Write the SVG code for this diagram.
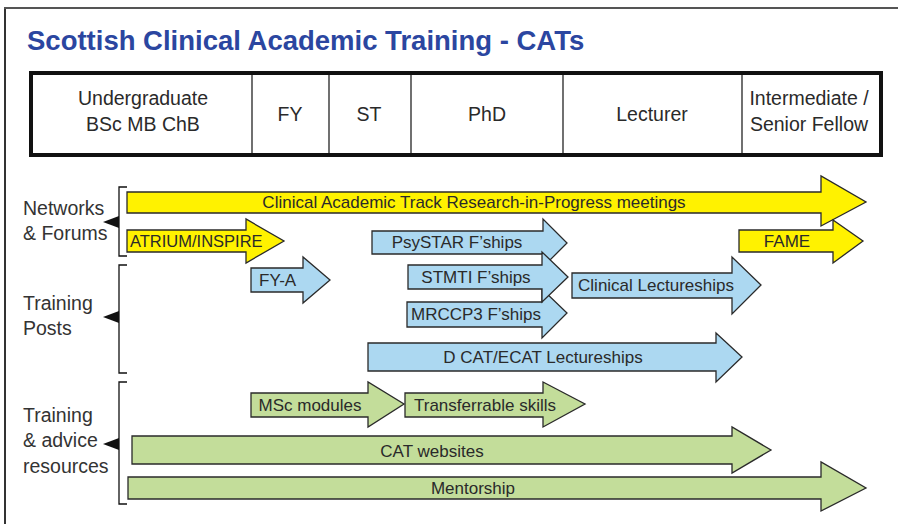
<svg xmlns="http://www.w3.org/2000/svg" width="898" height="524" viewBox="0 0 898 524">
<style>
text{font-family:"Liberation Sans",Arial,sans-serif;fill:#2a2a2a}
.hd{font-size:19.5px;text-anchor:middle;fill:#2a2a2a}
.lb{font-size:19.5px;fill:#333}
.al{font-size:17px;text-anchor:middle}
.y{fill:#fff200;stroke:#2a2a2a;stroke-width:1.3}
.b{fill:#acd8f1;stroke:#2a2a2a;stroke-width:1.3}
.g{fill:#c3dd9a;stroke:#2a2a2a;stroke-width:1.3}
.br{fill:none;stroke:#111;stroke-width:1.3}
.col{stroke:#111;stroke-width:1.2}
</style>
<rect width="898" height="524" fill="#fff"/>
<g id="frame">
<line x1="5" y1="7" x2="5" y2="524" stroke="#333" stroke-width="2"/>
<line x1="4" y1="8" x2="898" y2="8" stroke="#555" stroke-width="2"/>
</g>
<text id="title" x="27" y="50" style="font-size:27.5px;font-weight:bold;fill:#2b46a0">Scottish Clinical Academic Training - CATs</text>
<g id="timeline">
<rect x="31" y="73" width="850" height="82" fill="#fff" stroke="#111" stroke-width="4"/>
<line class="col" x1="252" y1="75" x2="252" y2="155"/>
<line class="col" x1="329" y1="75" x2="329" y2="155"/>
<line class="col" x1="411" y1="75" x2="411" y2="155"/>
<line class="col" x1="563" y1="75" x2="563" y2="155"/>
<line class="col" x1="742" y1="75" x2="742" y2="155"/>
<text class="hd" x="143" y="105">Undergraduate</text>
<text class="hd" x="143" y="131">BSc MB ChB</text>
<text class="hd" x="290" y="121">FY</text>
<text class="hd" x="369" y="121">ST</text>
<text class="hd" x="487" y="121">PhD</text>
<text class="hd" x="652" y="121">Lecturer</text>
<text class="hd" x="809" y="105">Intermediate /</text>
<text class="hd" x="809" y="131">Senior Fellow</text>
</g>
<g id="networks">
<text class="lb" x="23" y="215">Networks</text>
<text class="lb" x="23" y="240">&amp; Forums</text>
<path class="br" d="M127,187 H119 V256 H127"/>
<polygon points="103,222 119,216 119,228" fill="#111"/>
</g>
<g id="posts">
<text class="lb" x="23" y="310">Training</text>
<text class="lb" x="23" y="335">Posts</text>
<path class="br" d="M127,265 H119 V373 H127"/>
<polygon points="103,317 119,311 119,323" fill="#111"/>
</g>
<g id="resources">
<text class="lb" x="23" y="422">Training</text>
<text class="lb" x="23" y="447">&amp; advice</text>
<text class="lb" x="23" y="473">resources</text>
<path class="br" d="M127,382 H119 V504 H127"/>
<polygon points="103,444 119,438 119,450" fill="#111"/>
</g>
<g id="rip">
<polygon class="y" points="127,192 821,192 821,176 866,202 821,226 821,213 127,213"/>
<text class="al" x="474" y="208">Clinical Academic Track Research-in-Progress meetings</text>
</g>
<g id="atrium">
<polygon class="y" points="127,230 246,230 246,219 284,241 246,263 246,252 127,252"/>
<text x="130" y="247" style="font-size:16.5px">ATRIUM/INSPIRE</text>
</g>
<g id="fame">
<polygon class="y" points="739,230 833,230 833,220 863,241 833,263 833,252 739,252"/>
<text class="al" x="787" y="247">FAME</text>
</g>
<g id="psystar">
<polygon class="b" points="372,231 543,231 543,219 567,243 543,267 543,254 372,254"/>
<text class="al" x="457" y="248">PsySTAR F’ships</text>
</g>
<g id="mrccp3">
<polygon class="b" points="407,302 542,302 542,289 567,313 542,338 542,327 407,327"/>
<text class="al" x="476" y="320">MRCCP3 F’ships</text>
</g>
<g id="stmti">
<polygon class="b" points="408,265 542,265 542,252 568,277 542,302 542,289 408,289"/>
<text class="al" x="476" y="283">STMTI F’ships</text>
</g>
<g id="clinlect">
<polygon class="b" points="572,273 732,273 732,257 761,285 732,314 732,298 572,298"/>
<text class="al" x="656" y="291">Clinical Lectureships</text>
</g>
<g id="fya">
<polygon class="b" points="251,268 303,268 303,257 330,280 303,303 303,292 251,292"/>
<text x="259" y="286" style="font-size:17px">FY-A</text>
</g>
<g id="dcat">
<polygon class="b" points="368,343 716,343 716,333 742,357 716,382 716,371 368,371"/>
<text class="al" x="543" y="363">D CAT/ECAT Lectureships</text>
</g>
<g id="msc">
<polygon class="g" points="251,393 368,393 368,382 404,404 368,427 368,417 251,417"/>
<text class="al" x="310" y="411">MSc modules</text>
</g>
<g id="transferrable">
<polygon class="g" points="405,393 543,393 543,382 585,404 543,427 543,417 405,417"/>
<text class="al" x="485" y="411">Transferrable skills</text>
</g>
<g id="websites">
<polygon class="g" points="132,436 732,436 732,427 771,450 732,473 732,464 132,464"/>
<text class="al" x="432" y="457">CAT websites</text>
</g>
<g id="mentorship">
<polygon class="g" points="128,477 821,477 821,462 866,488 821,511 821,499 128,499"/>
<text class="al" x="473" y="494">Mentorship</text>
</g>
<g id="connectors"></g>
</svg>
